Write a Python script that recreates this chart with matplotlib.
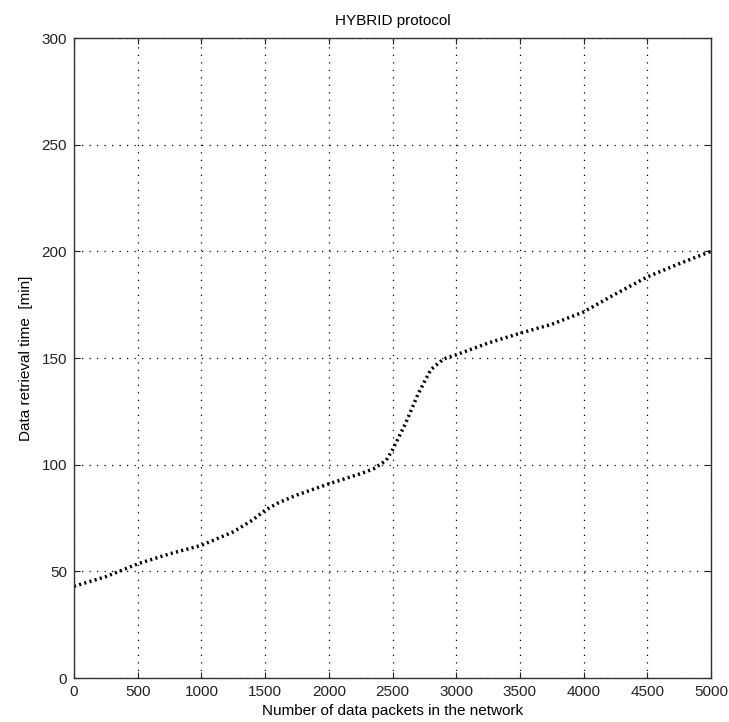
import matplotlib
matplotlib.use("Agg")
import matplotlib.pyplot as plt

plt.rcParams['font.family'] = ['Liberation Sans', 'DejaVu Sans']

# retrieval time vs. number of packets (HYBRID)
packets = [0, 250, 500, 750, 1000, 1250, 1400, 1500, 1600, 1750, 2000, 2250, 2350,
           2450, 2500, 2600, 2700, 2800, 2900, 3000, 3250, 3500, 3750, 4000, 4250,
           4500, 4750, 5000]
ret_time = [43, 47.5, 53.5, 58.2, 62.2, 68.5, 74, 78.6, 82, 85.8, 91, 95.8, 98,
            102, 107, 119, 133, 144.5, 149.5, 151.5, 157, 161.6, 165.8, 171.6, 180,
            188, 194.2, 200]

xticks = list(range(0, 5001, 500))
yticks = list(range(0, 301, 50))

fig = plt.figure(figsize=(7.29, 7.22), dpi=100)
ax = fig.add_axes([74/729, 44/722, 637/729, 640/722])

ax.plot(packets, ret_time, color="black", lw=2.5, linestyle=(0, (0.6, 0.95)),
        dash_capstyle="butt")

ax.set_xlim(0, 5000)
ax.set_ylim(0, 300)
ax.set_xticks(xticks)
ax.set_yticks(yticks)
ax.grid(True, color="black", linestyle=(0, (1, 5)), lw=0.9)
ax.tick_params(direction="in", length=4.5, width=0.8, top=True, right=True,
               labelsize=11, pad=5, colors="#222222")
for s in ax.spines.values():
    s.set_linewidth(1.0)
    s.set_color("#333333")

ax.set_title("HYBRID protocol", fontsize=11, pad=9)
ax.set_xlabel("Number of data packets in the network", fontsize=11, labelpad=4)
ax.set_ylabel("Data retrieval time  [min]", fontsize=11, labelpad=6)

fig.savefig("out.png", dpi=100)
